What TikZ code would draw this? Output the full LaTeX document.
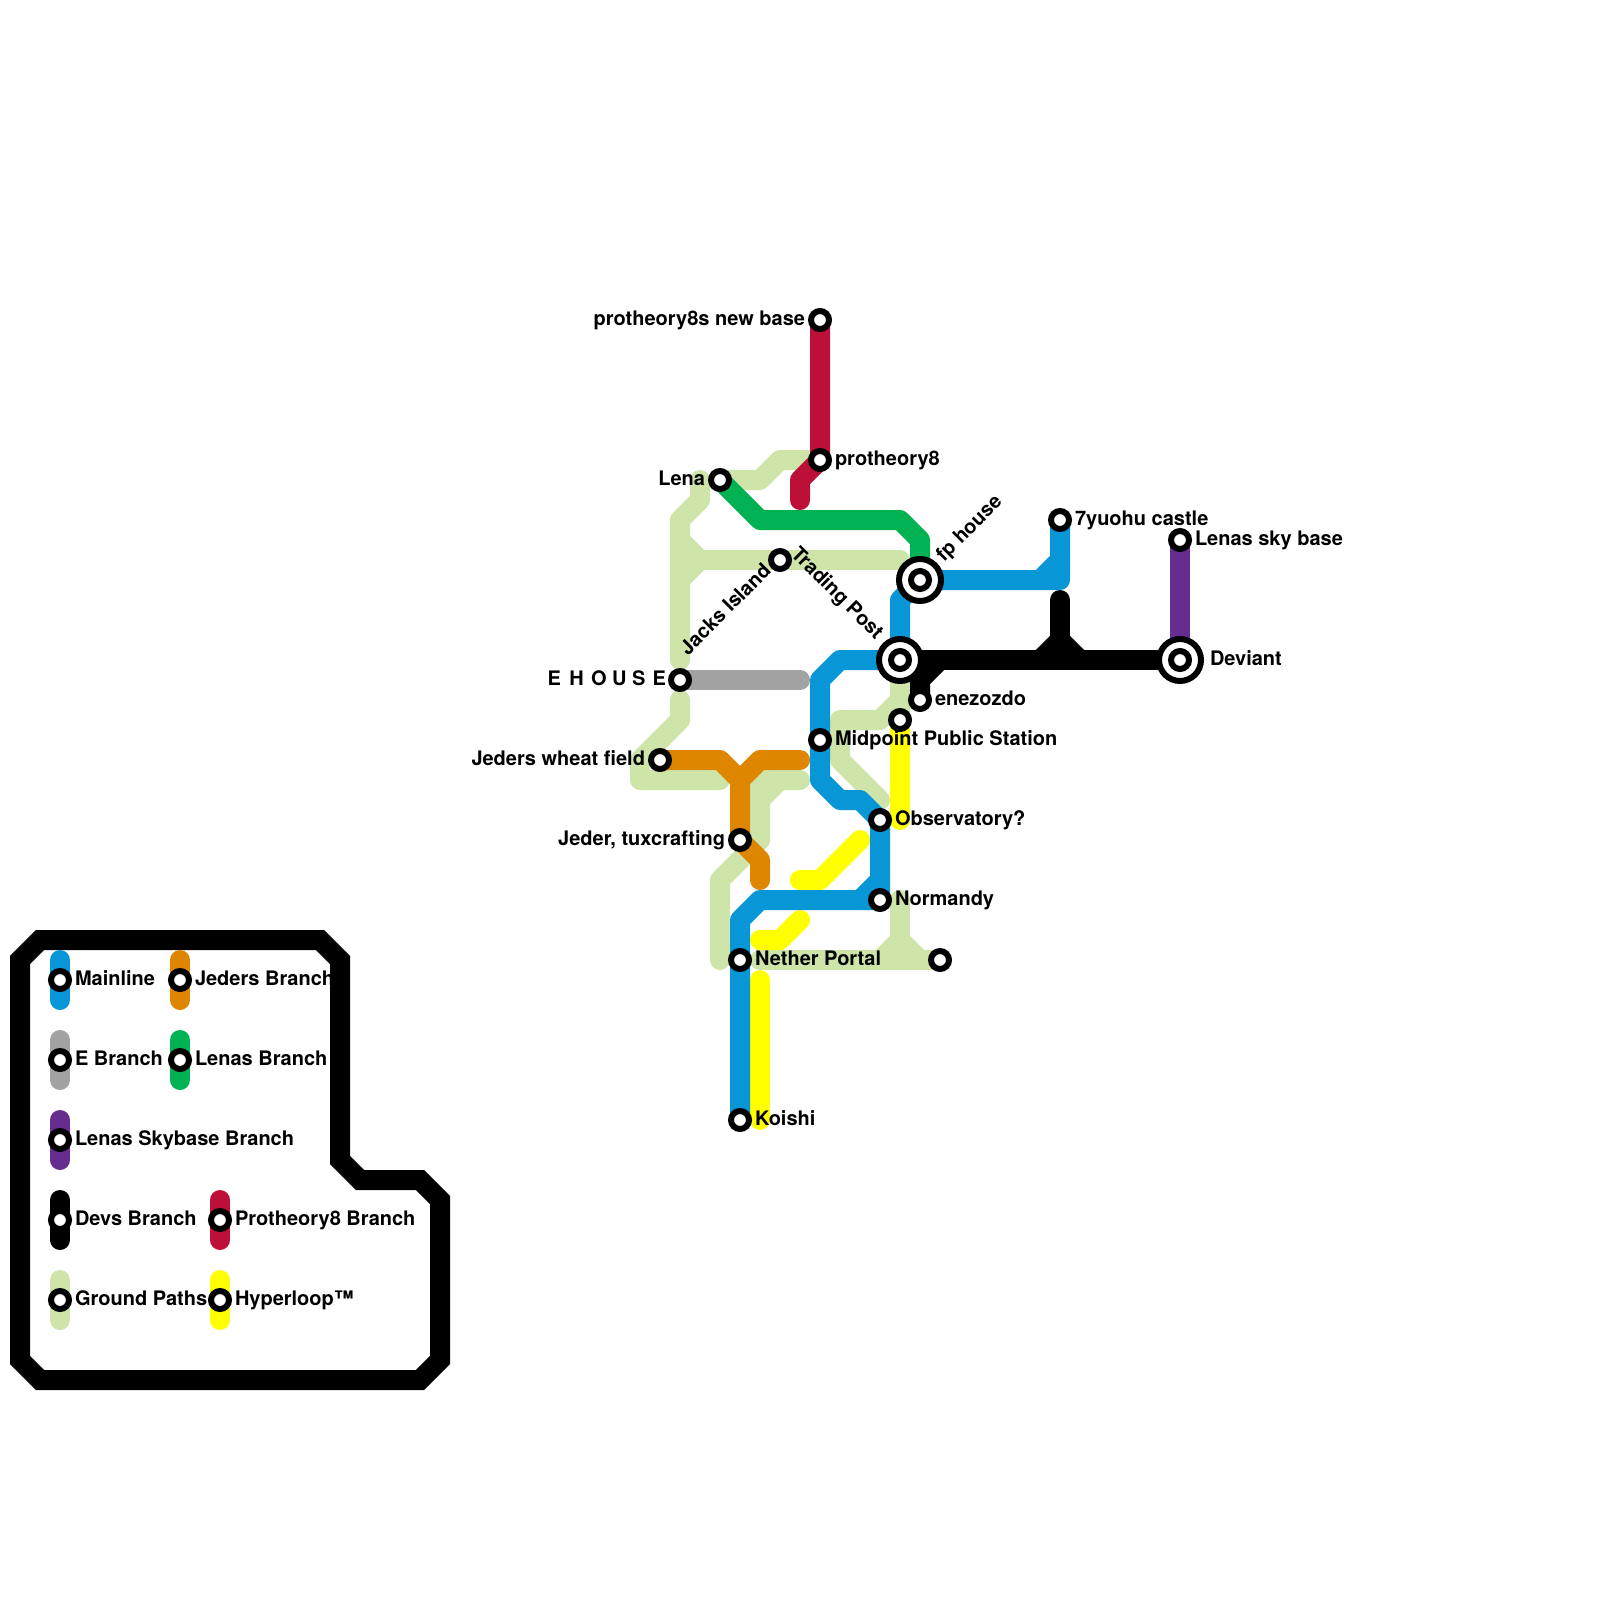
\documentclass[tikz,border=0pt]{standalone}
\usepackage{fontspec}
\setmainfont{TeX Gyre Heros}
\usetikzlibrary{backgrounds}
\definecolor{cBlue}{HTML}{0896D7}
\definecolor{cOrange}{HTML}{DF8600}
\definecolor{cGrey}{HTML}{A2A2A2}
\definecolor{cGreen}{HTML}{00B251}
\definecolor{cPurple}{HTML}{662C90}
\definecolor{cCrimson}{HTML}{BD1038}
\definecolor{cYellow}{HTML}{FFFF00}
\definecolor{cGround}{HTML}{CFE4A9}
\tikzset{
  route/.style={line width=20pt,line cap=round,line join=round},
  stn/.style={circle,draw=black,fill=white,line width=6pt,minimum size=18pt,inner sep=0pt,outer sep=0pt},
  ring/.style={circle,draw=black,fill=white,line width=6pt,minimum size=42pt,inner sep=0pt,outer sep=0pt},
  lab/.style={inner sep=0pt,outer sep=0pt,font=\fontsize{20}{24}\selectfont\bfseries,text=black},
  labr/.style={lab,anchor=base west},
  labl/.style={lab,anchor=base east},
  key/.style={route,draw=#1},
}
\begin{document}
\begin{tikzpicture}[x=1pt,y=-1pt]
\path[use as bounding box] (0,0) rectangle (1600,1600);
% rings
\node[ring] (fpRing) at (920,580) {};
\node[ring] (tradeRing) at (900,660) {};
\node[ring] (devRing) at (1180,660) {};
% stations
\node[stn] (newbase) at (820,320) {};
\node[stn] (proth) at (820,460) {};
\node[stn] (lena) at (720,480) {};
\node[stn] (jacks) at (780,560) {};
\node[stn] (fp) at (920,580) {};
\node[stn] (castle) at (1060,520) {};
\node[stn] (sky) at (1180,540) {};
\node[stn] (deviant) at (1180,660) {};
\node[stn] (trade) at (900,660) {};
\node[stn] (ehouse) at (680,680) {};
\node[stn] (enez) at (920,700) {};
\node[stn] (upper) at (900,720) {};
\node[stn] (midpoint) at (820,740) {};
\node[stn] (wheat) at (660,760) {};
\node[stn] (observ) at (880,820) {};
\node[stn] (jeder) at (740,840) {};
\node[stn] (normandy) at (880,900) {};
\node[stn] (nether) at (740,960) {};
\node[stn] (farend) at (940,960) {};
\node[stn] (koishi) at (740,1120) {};
% legend stations
\node[stn] (kMain) at (60,980) {};
\node[stn] (kJed) at (180,980) {};
\node[stn] (kE) at (60,1060) {};
\node[stn] (kLen) at (180,1060) {};
\node[stn] (kSky) at (60,1140) {};
\node[stn] (kDev) at (60,1220) {};
\node[stn] (kPro) at (220,1220) {};
\node[stn] (kGro) at (60,1300) {};
\node[stn] (kHyp) at (220,1300) {};
% labels
\node[labl] (tNewbase) at (805,325) {protheory8s new base};
\node[labr] (tProth) at (835,465) {protheory8};
\node[labl] (tLena) at (705,485) {Lena};
\node[labr,rotate=45] (tFp) at (944,562) {fp house};
\node[labr] (tCastle) at (1075,525) {7yuohu castle};
\node[labr] (tSky) at (1195,545) {Lenas sky base};
\node[labr] (tDeviant) at (1210,665) {Deviant};
\node[labr,rotate=45] (tJacks) at (688,656) {Jacks Island};
\node[labr,rotate=-45] (tTrade) at (790,555) {Trading Post};
\node[labl] (tEhouse) at (666,685) {{\spaceskip=6.6pt E \kern2pt H \kern.5pt O \kern-1pt U \kern-1pt S \kern.5pt E}};
\node[labr] (tEnez) at (935,705) {enezozdo};
\node[labr] (tMid) at (835,745) {Midpoint Public Station};
\node[labl] (tWheat) at (645,765) {Jeders wheat field};
\node[labr] (tObs) at (895,825) {Observatory?};
\node[labl] (tJeder) at (725,845) {Jeder, tuxcrafting};
\node[labr] (tNorm) at (895,905) {Normandy};
\node[labr] (tNether) at (755,965) {Nether Portal};
\node[labr] (tKoishi) at (755,1125) {Koishi};
\node[labr] (lMain) at (75,985) {Mainline};
\node[labr] (lJed) at (195,985) {Jeders Branch};
\node[labr] (lE) at (75,1065) {E Branch};
\node[labr] (lLen) at (195,1065) {Lenas Branch};
\node[labr] (lSky) at (75,1145) {Lenas Skybase Branch};
\node[labr] (lDev) at (75,1225) {Devs Branch};
\node[labr] (lPro) at (235,1225) {Protheory8 Branch};
\node[labr] (lGro) at (75,1305) {Ground Paths};
\node[labr] (lHyp) at (235,1305) {Hyperloop™};
\begin{pgfonlayer}{background}
\fill[white] (0,0) rectangle (1600,1600);
% frame
\draw[route,draw=black,line join=miter] (20,960) -- (40,940) -- (320,940) -- (340,960) -- (340,1160) -- (360,1180) -- (420,1180) -- (440,1200) -- (440,1360) -- (420,1380) -- (40,1380) -- (20,1360) -- cycle;
% ground paths
\begin{scope}[route,draw=cGround]
\draw (lena.center) -- (760,480) -- (780,460) -- (proth.center);
\draw (700,480) -- (700,500) -- (680,520) -- (680,660);
\draw (680,540) -- (700,560) -- (680,580);
\draw (700,560) -- (900,560);
\draw (680,700) -- (680,720) -- (640,760) -- (640,780) -- (720,780);
\draw (trade.center) -- (900,700) -- (880,720) -- (840,720) -- (840,760) -- (880,800);
\draw (900,680) -- (upper.center);
\draw (800,780) -- (760,780) -- (760,840) -- (720,880) -- (720,960);
\draw (780,780) -- (760,800);
\draw (760,960) -- (farend.center);
\draw (900,900) -- (900,940);
\draw (880,960) -- (900,940) -- (920,960);
\end{scope}
% hyperloop
\begin{scope}[route,draw=cYellow]
\draw (upper.center) -- (900,820);
\draw (800,880) -- (820,880) -- (860,840);
\draw (760,940) -- (780,940) -- (800,920);
\draw (760,980) -- (760,1120);
\end{scope}
% orange
\begin{scope}[route,draw=cOrange]
\draw (wheat.center) -- (720,760) -- (740,780) -- (jeder.center) -- (760,860) -- (760,880);
\draw (740,780) -- (760,760) -- (800,760);
\end{scope}
% grey
\draw[key=cGrey] (ehouse.center) -- (800,680);
% purple
\draw[key=cPurple] (sky.center) -- (deviant.center);
% crimson
\draw[key=cCrimson] (newbase.center) -- (proth.center) -- (800,480) -- (800,500);
% green
\draw[key=cGreen] (lena.center) -- (760,520) -- (900,520) -- (920,540) -- (fp.center);
% black
\begin{scope}[route,draw=black]
\draw (trade.center) -- (deviant.center);
\draw (enez.center) -- (920,680) -- (940,660);
\draw (1060,600) -- (1060,660);
\draw (1040,660) -- (1060,640) -- (1080,660);
\end{scope}
% mainline
\begin{scope}[route,draw=cBlue]
\draw (koishi.center) -- (740,920) -- (760,900) -- (normandy.center) -- (observ.center) -- (860,800) -- (840,800) -- (820,780) -- (820,680) -- (840,660) -- (trade.center) -- (900,600) -- (fp.center) -- (1060,580) -- (castle.center);
\draw (860,900) -- (880,880);
\draw (1040,580) -- (1060,560);
\end{scope}
% legend keys
\draw[key=cBlue] (60,960) -- (kMain.center) -- (60,1000);
\draw[key=cOrange] (180,960) -- (kJed.center) -- (180,1000);
\draw[key=cGrey] (60,1040) -- (kE.center) -- (60,1080);
\draw[key=cGreen] (180,1040) -- (kLen.center) -- (180,1080);
\draw[key=cPurple] (60,1120) -- (kSky.center) -- (60,1160);
\draw[key=black] (60,1200) -- (kDev.center) -- (60,1240);
\draw[key=cCrimson] (220,1200) -- (kPro.center) -- (220,1240);
\draw[key=cGround] (60,1280) -- (kGro.center) -- (60,1320);
\draw[key=cYellow] (220,1280) -- (kHyp.center) -- (220,1320);
\end{pgfonlayer}
\end{tikzpicture}
\end{document}
